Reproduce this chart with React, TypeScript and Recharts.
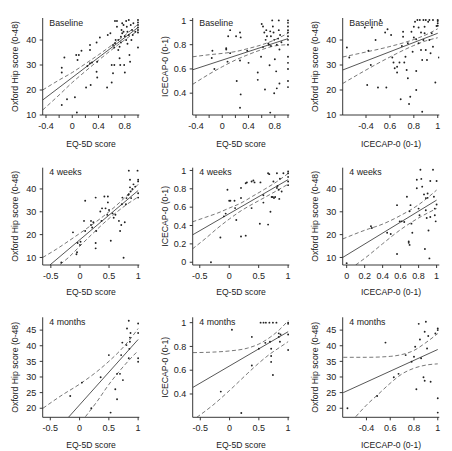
import React from 'react';
import { ComposedChart, Scatter, Line, XAxis, YAxis } from 'recharts';

type XY = [number, number];

const NARROW = "'Liberation Sans Narrow', 'Liberation Sans', Arial, sans-serif";
const WIDE = "'Liberation Sans', Arial, sans-serif";
const INK = '#222';

// axis titles
const EQ5D = 'EQ-5D score';
const OHS = 'Oxford Hip score (0-48)';
const ICECAP = 'ICECAP-0 (0-1)';

// ticks
const eqTicksBase = [-0.4, -0.2, 0, 0.2, 0.4, 0.6, 0.8, 1];
const eqLabelsBase = [-0.4, 0, 0.4, 0.8];
const eqTicksLater = [-0.5, 0, 0.5, 1];
const icecapXTicksShort = [0.4, 0.6, 0.8, 1];
const icecapXTicksFull = [0, 0.2, 0.4, 0.6, 0.8, 1];
const ohsTicks10 = [10, 20, 30, 40];
const ohsTicks5 = [20, 25, 30, 35, 40, 45];
const icecapYTicks = [0.4, 0.6, 0.8, 1];
const icecapYTicksFull = [0, 0.2, 0.4, 0.6, 0.8, 1];

// ---- Baseline ----
const baseEqOhs: XY[] = [
  [-0.16, 28.9], [-0.16, 27], [-0.16, 14], [-0.12, 33], [-0.08, 16.3], [0.04, 17.1], [0.06, 34], [0.08, 32],
  [0.1, 34], [0.14, 35.7], [0.21, 21], [0.23, 29.6], [0.27, 30.7], [0.27, 38], [0.27, 36], [0.3, 31],
  [0.28, 22], [0.07, 11], [0.37, 27.3], [0.38, 25], [0.38, 31.3], [0.37, 39], [0.42, 41], [0.53, 21],
  [0.54, 42], [0.58, 42.7], [0.6, 23], [0.62, 26.7], [0.6, 30], [0.64, 30], [0.64, 37], [0.65, 38.7],
  [0.65, 47.6], [0.68, 47.6], [0.68, 45.3], [0.7, 40], [0.72, 37.3], [0.72, 32.7], [0.73, 30], [0.74, 41.3],
  [0.75, 44], [0.76, 46.7], [0.76, 42.7], [0.78, 46], [0.78, 43.3], [0.79, 30], [0.8, 27], [0.82, 40],
  [0.82, 47.6], [0.83, 45.3], [0.84, 43.3], [0.86, 48], [0.86, 42], [0.87, 34], [0.88, 31.3], [0.89, 46],
  [0.91, 44], [0.93, 46.7], [0.96, 43.3], [1, 48], [1, 47], [1, 46], [1, 45], [1, 44], [1, 43], [1, 37],
  [0.62, 38], [0.66, 40], [0.7, 36], [0.74, 39], [0.8, 41.5], [0.84, 38.5], [0.9, 40], [0.92, 42],
];
const baseEqOhsFit: XY[] = [[-0.45, 16], [1, 45]];
const baseEqOhsHi: XY[] = [[-0.45, 20], [-0.2, 24], [0, 27], [0.2, 30.5], [0.4, 34.1], [0.6, 37.9], [0.8, 41.9], [1, 46.3]];
const baseEqOhsLo: XY[] = [[-0.45, 12], [-0.2, 18], [0, 23], [0.2, 27.5], [0.4, 31.9], [0.6, 36.1], [0.8, 40.1], [1, 43.7]];

const baseEqIce: XY[] = [
  [-0.15, 0.75], [-0.16, 0.69], [-0.12, 0.6], [0.06, 0.77], [0.06, 0.76], [0.09, 0.87], [0.12, 0.92], [0.12, 0.73],
  [0.08, 0.66], [0.21, 0.87], [0.27, 0.9], [0.28, 0.86], [0.22, 0.5], [0.27, 0.67], [0.28, 0.39], [0.27, 0.28],
  [0.38, 0.75], [0.4, 0.65], [0.54, 0.57], [0.54, 0.51], [0.59, 0.7], [0.6, 0.97], [0.62, 0.95], [0.64, 0.9],
  [0.65, 0.43], [0.67, 0.92], [0.68, 0.87], [0.7, 0.81], [0.71, 0.8], [0.73, 0.91], [0.74, 0.87], [0.74, 0.79],
  [0.76, 1], [0.77, 0.95], [0.78, 0.9], [0.79, 0.84], [0.8, 0.68], [0.82, 0.58], [0.83, 0.44], [0.83, 0.8],
  [0.86, 1], [0.86, 0.92], [0.87, 0.76], [0.87, 0.48], [0.73, 0.24], [0.72, 0.63], [0.79, 0.4], [0.85, 0.85],
  [0.88, 0.88], [0.9, 0.82], [0.66, 0.84], [0.62, 0.78], [1, 1], [1, 0.98], [1, 0.95], [1, 0.92], [1, 0.9],
  [1, 0.87], [1, 0.84], [1, 0.8], [1, 0.7], [1, 0.65], [1, 0.6], [1, 0.5], [1, 0.45],
];
const baseEqIceFit: XY[] = [[-0.45, 0.593], [1, 0.85]];
const baseEqIceHi: XY[] = [[-0.45, 0.7], [-0.2, 0.717], [0, 0.728], [0.2, 0.743], [0.4, 0.769], [0.6, 0.799], [0.8, 0.84], [1, 0.895]];
const baseEqIceLo: XY[] = [[-0.45, 0.473], [-0.2, 0.557], [0, 0.618], [0.2, 0.673], [0.4, 0.719], [0.6, 0.759], [0.8, 0.79], [1, 0.8]];

const baseIceOhs: XY[] = [
  [0.24, 37], [0.26, 33], [0.39, 45], [0.45, 45], [0.41, 22], [0.44, 30], [0.42, 35.7], [0.48, 40],
  [0.5, 21], [0.57, 21], [0.52, 48], [0.56, 43], [0.58, 44.3], [0.61, 42], [0.62, 33], [0.63, 31],
  [0.64, 28.7], [0.66, 29.3], [0.66, 27], [0.68, 31], [0.69, 16.3], [0.7, 37.6], [0.71, 41.3], [0.71, 43.3],
  [0.72, 31], [0.73, 33.3], [0.74, 28], [0.75, 38.7], [0.75, 24.7], [0.76, 14.4], [0.77, 17.3], [0.78, 43.3],
  [0.8, 45.3], [0.79, 35.3], [0.81, 47.3], [0.82, 40.3], [0.82, 20], [0.82, 27.6], [0.83, 48], [0.84, 45],
  [0.84, 38.7], [0.85, 48], [0.86, 36], [0.87, 32], [0.87, 11.3], [0.88, 48], [0.89, 45.3], [0.89, 42.7],
  [0.9, 36], [0.91, 32], [0.92, 47.3], [0.93, 40], [0.94, 34.7], [0.95, 42.7], [0.96, 37.3], [0.98, 23],
  [0.99, 45.6], [1, 48], [1, 47.6], [1, 46.7], [1, 45.7], [1.01, 33], [0.9, 48], [0.93, 48], [0.96, 48],
  [0.86, 43], [0.8, 41], [0.88, 40],
];
const baseIceOhsFit: XY[] = [[0.205, 28], [1, 42.7]];
const baseIceOhsHi: XY[] = [[0.205, 33.2], [0.4, 35.2], [0.6, 37.4], [0.8, 40.2], [0.9, 42.05], [1, 44.5]];
const baseIceOhsLo: XY[] = [[0.205, 22.6], [0.4, 28], [0.6, 33.2], [0.8, 37.8], [0.9, 39.65], [1, 40.9]];

// ---- 4 weeks ----
const wkEqOhs: XY[] = [
  [-0.32, 7.8], [-0.12, 21], [-0.06, 11.4], [-0.05, 12.3], [-0.04, 16.3], [0, 15.5], [0.01, 16.9], [0.09, 34.8],
  [0.07, 26], [0.09, 21.6], [0.19, 26], [0.19, 24.2], [0.21, 23.1], [0.23, 25.4], [0.27, 36.2], [0.27, 16.3],
  [0.27, 14], [0.28, 21.6], [0.35, 30.1], [0.37, 26], [0.38, 31.5], [0.42, 36.7], [0.44, 31.5], [0.48, 36.7],
  [0.48, 34.1], [0.47, 28.7], [0.5, 30.8], [0.53, 17.3], [0.56, 29.3], [0.58, 27.4], [0.61, 28.7], [0.67, 26],
  [0.69, 21.6], [0.71, 24.2], [0.72, 33.3], [0.73, 36.2], [0.75, 9.9], [0.77, 25.4], [0.79, 33.3], [0.8, 36],
  [0.83, 37.4], [0.84, 37.7], [0.84, 48], [0.86, 44], [0.86, 40.7], [0.87, 38.9], [0.88, 36], [0.99, 48],
  [1, 44], [1, 43.3], [1, 38.1], [1, 36.2], [0.9, 40], [0.92, 42], [0.95, 41],
];
const wkEqOhsFit: XY[] = [[-0.516, 6.7], [1, 39.3]];
const wkEqOhsHi: XY[] = [[-0.64, 10], [-0.4, 13.7], [-0.2, 17.1], [0, 20.6], [0.2, 24.2], [0.4, 28], [0.6, 32.2], [0.8, 36.9], [1, 42]];
const wkEqOhsLo: XY[] = [[-0.34, 7], [-0.2, 9.9], [0, 15], [0.2, 20], [0.4, 24.8], [0.6, 29.2], [0.8, 33.1], [1, 36.5]];

const wkEqIce: XY[] = [
  [-0.31, 0], [-0.15, 0.27], [-0.09, 0.5], [-0.06, 0.53], [-0.03, 0.79], [0, 0.67], [0.02, 0.67], [0.09, 0.67],
  [0.1, 0.59], [0.12, 0.46], [0.2, 0.81], [0.2, 0.7], [0.2, 0.28], [0.28, 0.29], [0.28, 0.86], [0.3, 0.87],
  [0.38, 0.88], [0.41, 0.89], [0.43, 0.87], [0.38, 0.59], [0.52, 0.42], [0.53, 0.87], [0.58, 0.65], [0.58, 0.73],
  [0.66, 0.97], [0.68, 0.96], [0.66, 0.41], [0.7, 0.55], [0.72, 0.71], [0.74, 0.71], [0.75, 0.88], [0.76, 0.7],
  [0.78, 0.71], [0.81, 0.97], [0.81, 0.81], [0.82, 0.83], [0.84, 0.79], [0.85, 0.69], [0.86, 0.91], [0.89, 0.77],
  [0.92, 0.97], [1, 0.99], [1, 0.97], [1, 0.93], [1, 0.88], [1, 0.84],
];
const wkEqIceFit: XY[] = [[-0.625, 0.297], [1, 0.9]];
const wkEqIceHi: XY[] = [[-0.625, 0.44], [-0.4, 0.49], [-0.2, 0.535], [0, 0.59], [0.2, 0.645], [0.4, 0.72], [0.6, 0.795], [0.8, 0.875], [1, 0.967]];
const wkEqIceLo: XY[] = [[-0.625, 0.145], [-0.4, 0.26], [-0.2, 0.37], [0, 0.47], [0.2, 0.56], [0.4, 0.635], [0.6, 0.705], [0.8, 0.777], [1, 0.85]];

const wkIceOhs: XY[] = [
  [0, 7.5], [0.27, 23.7], [0.28, 22.9], [0.45, 20.8], [0.49, 20.3], [0.56, 11.5], [0.56, 32.9], [0.59, 25.8],
  [0.61, 25.8], [0.64, 25.5], [0.67, 36.6], [0.69, 16.4], [0.7, 15.5], [0.69, 17], [0.7, 30.2], [0.71, 32.9],
  [0.72, 24.8], [0.73, 20.8], [0.78, 40.3], [0.78, 44], [0.8, 31.4], [0.81, 28.5], [0.82, 48.4], [0.83, 44.4],
  [0.84, 41], [0.86, 37.6], [0.87, 13.7], [0.88, 30.7], [0.89, 27.3], [0.9, 36.1], [0.91, 21.8], [0.92, 9.6],
  [0.93, 43.5], [0.93, 27.7], [0.96, 48.4], [0.97, 36.6], [0.98, 31.4], [0.98, 28.5], [0.99, 25.8], [1, 43.5],
  [1, 33.2], [0.88, 36], [0.9, 38],
];
const wkIceOhsFit: XY[] = [[-0.044, 10], [1, 35.1]];
const wkIceOhsHi: XY[] = [[-0.044, 18.1], [0.2, 21.9], [0.4, 24.6], [0.6, 28.4], [0.8, 33.1], [1, 39.5]];
const wkIceOhsLo: XY[] = [[0.1, 6.7], [0.2, 9.6], [0.4, 16], [0.6, 22.2], [0.8, 27.3], [1, 31.4]];

// ---- 4 months ----
const moEqOhs: XY[] = [
  [-0.16, 23.9], [0.04, 28.2], [0.2, 20], [0.36, 29.9], [0.5, 37], [0.53, 18.6], [0.61, 26.1], [0.64, 22.9],
  [0.64, 31], [0.69, 31], [0.71, 37], [0.73, 41], [0.74, 29], [0.81, 45.5], [0.84, 48], [0.86, 42.6],
  [0.86, 41.3], [0.84, 36], [0.87, 44.1], [1, 47.1], [1, 44.1], [1, 36], [1, 34.9], [0.8, 40.2], [0.85, 39],
];
const moEqOhsFit: XY[] = [[-0.19, 17.1], [1, 42]];
const moEqOhsHi: XY[] = [[-0.625, 20], [-0.3, 24.2], [0, 27.7], [0.3, 31.8], [0.5, 35], [0.7, 38.6], [0.85, 41.8], [1, 45.5]];
const moEqOhsLo: XY[] = [[0.1, 17.3], [0.3, 22.2], [0.5, 27.6], [0.7, 32.3], [0.85, 35.5], [1, 38.4]];

const moEqIce: XY[] = [
  [-0.15, 0.42], [0.04, 0.94], [0.2, 0.24], [0.38, 0.88], [0.38, 0.64], [0.53, 1], [0.58, 1], [0.62, 1],
  [0.68, 1], [0.74, 1], [0.8, 1], [0.5, 0.78], [0.61, 0.83], [0.69, 0.84], [0.71, 0.78], [0.71, 0.72],
  [0.71, 0.67], [0.74, 0.56], [0.84, 0.91], [0.87, 0.9], [0.86, 0.84], [1, 1], [1, 0.99], [1, 0.9],
  [1, 0.77], [0.84, 0.88],
];
const moEqIceFit: XY[] = [[-0.625, 0.456], [1, 0.924]];
const moEqIceHi: XY[] = [[-0.625, 0.748], [-0.3, 0.752], [0, 0.762], [0.3, 0.785], [0.5, 0.82], [0.7, 0.88], [0.85, 0.94], [1, 1.017]];
const moEqIceLo: XY[] = [[-0.56, 0.204], [-0.3, 0.3], [0, 0.43], [0.3, 0.57], [0.5, 0.66], [0.7, 0.74], [0.85, 0.79], [1, 0.84]];

const moIceOhs: XY[] = [
  [0.24, 20], [0.49, 23.9], [0.56, 41], [0.63, 29.9], [0.67, 31], [0.73, 37], [0.78, 34.9], [0.8, 36.5],
  [0.81, 39.7], [0.82, 26.1], [0.84, 47], [0.85, 42], [0.86, 36], [0.88, 29.9], [0.89, 28.8], [0.89, 44.5],
  [0.9, 47.7], [0.91, 39.1], [0.92, 43.1], [0.94, 28.5], [0.98, 43.9], [1, 45.5], [1, 45], [1, 23.2], [1, 18.6],
];
const moIceOhsFit: XY[] = [[0.205, 25], [1, 38.8]];
const moIceOhsHi: XY[] = [[0.205, 36.3], [0.4, 36.3], [0.6, 36.6], [0.7, 37.2], [0.8, 38.5], [0.9, 41], [1, 43.9]];
const moIceOhsLo: XY[] = [[0.31, 17.3], [0.4, 21], [0.5, 24.5], [0.6, 28], [0.7, 31], [0.8, 32.8], [0.9, 33.8], [1, 34.2]];

type PanelCfg = {
  title: string;
  xTitle: string;
  yTitle: string;
  xDomain: [number, number];
  yDomain: [number, number];
  xTicks: number[];
  yTicks: number[];
  xFmt: (v: number) => string;
  points: XY[];
  fit: XY[];
  hi: XY[];
  lo: XY[];
};

const fmtBase = (v: number) => (eqLabelsBase.includes(v) ? String(v) : '');
const fmtPlain = (v: number) => String(v);
const fmtIce = (v: number) => (v === 0.4 ? '-0.4' : String(v));

const rows = [
  { top: 0, height: 150, plotTop: 18, plotBottom: 115, titleOffset: 3, label: 'Baseline' },
  { top: 145, height: 155, plotTop: 22.7, plotBottom: 120, titleOffset: 5.3, label: '4 weeks' },
  { top: 300, height: 151, plotTop: 17.3, plotBottom: 117.3, titleOffset: 3, label: '4 months' },
];

const panels: PanelCfg[][] = [
  [
    { title: 'Baseline', xTitle: EQ5D, yTitle: OHS, xDomain: [-0.45, 1.02], yDomain: [10, 48.8], xTicks: eqTicksBase, yTicks: ohsTicks10, xFmt: fmtBase, points: baseEqOhs, fit: baseEqOhsFit, hi: baseEqOhsHi, lo: baseEqOhsLo },
    { title: 'Baseline', xTitle: EQ5D, yTitle: ICECAP, xDomain: [-0.45, 1.02], yDomain: [0.22, 1.02], xTicks: eqTicksBase, yTicks: icecapYTicks, xFmt: fmtBase, points: baseEqIce, fit: baseEqIceFit, hi: baseEqIceHi, lo: baseEqIceLo },
    { title: 'Baseline', xTitle: ICECAP, yTitle: OHS, xDomain: [0.205, 1.013], yDomain: [10, 48.8], xTicks: icecapXTicksShort, yTicks: ohsTicks10, xFmt: fmtIce, points: baseIceOhs, fit: baseIceOhsFit, hi: baseIceOhsHi, lo: baseIceOhsLo },
  ],
  [
    { title: '4 weeks', xTitle: EQ5D, yTitle: OHS, xDomain: [-0.64, 1.02], yDomain: [6.7, 49.3], xTicks: eqTicksLater, yTicks: ohsTicks10, xFmt: fmtPlain, points: wkEqOhs, fit: wkEqOhsFit, hi: wkEqOhsHi, lo: wkEqOhsLo },
    { title: '4 weeks', xTitle: EQ5D, yTitle: ICECAP, xDomain: [-0.62, 1.02], yDomain: [-0.03, 1.03], xTicks: eqTicksLater, yTicks: icecapYTicksFull, xFmt: fmtPlain, points: wkEqIce, fit: wkEqIceFit, hi: wkEqIceHi, lo: wkEqIceLo },
    { title: '4 weeks', xTitle: ICECAP, yTitle: OHS, xDomain: [-0.044, 1.03], yDomain: [6.7, 49.3], xTicks: icecapXTicksFull, yTicks: ohsTicks10, xFmt: fmtPlain, points: wkIceOhs, fit: wkIceOhsFit, hi: wkIceOhsHi, lo: wkIceOhsLo },
  ],
  [
    { title: '4 months', xTitle: EQ5D, yTitle: OHS, xDomain: [-0.63, 1.02], yDomain: [17.1, 49.1], xTicks: eqTicksLater, yTicks: ohsTicks5, xFmt: fmtPlain, points: moEqOhs, fit: moEqOhsFit, hi: moEqOhsHi, lo: moEqOhsLo },
    { title: '4 months', xTitle: EQ5D, yTitle: ICECAP, xDomain: [-0.63, 1.02], yDomain: [0.204, 1.045], xTicks: eqTicksLater, yTicks: icecapYTicks, xFmt: fmtPlain, points: moEqIce, fit: moEqIceFit, hi: moEqIceHi, lo: moEqIceLo },
    { title: '4 months', xTitle: ICECAP, yTitle: OHS, xDomain: [0.2, 1.013], yDomain: [17.1, 49.1], xTicks: icecapXTicksShort, yTicks: ohsTicks5, xFmt: fmtIce, points: moIceOhs, fit: moIceOhsFit, hi: moIceOhsHi, lo: moIceOhsLo },
  ],
];

const toPts = (a: XY[]) => a.map(([x, y]) => ({ x, y }));

// eslint-disable-next-line @typescript-eslint/no-explicit-any
const Dot = (p: any) => <circle cx={p.cx} cy={p.cy} r={0.95} fill={INK} />;

const PLOT_LEFT = 42.7;
const CHART_W = 150;
const PLOT_RIGHT = 139.3;

function Panel({ cfg, left, row }: { cfg: PanelCfg; left: number; row: typeof rows[number] }) {
  const axisStyle = { stroke: INK, strokeWidth: 0.9 };
  return (
    <div style={{ position: 'absolute', left, top: row.top, width: CHART_W, height: row.height }}>
      <ComposedChart
        width={CHART_W}
        height={row.height}
        margin={{ top: row.plotTop, right: CHART_W - PLOT_RIGHT, left: 0, bottom: 0 }}
      >
        <XAxis
          type="number" dataKey="x" domain={cfg.xDomain} ticks={cfg.xTicks} interval={0}
          allowDataOverflow tickFormatter={cfg.xFmt}
          height={row.height - row.plotBottom} tickSize={3} tickMargin={4.5}
          axisLine={axisStyle} tickLine={axisStyle}
          tick={{ fontSize: 9, fill: INK, fontFamily: NARROW }}
          label={{ value: cfg.xTitle, position: 'insideBottom', offset: row.titleOffset, fontSize: 8.6, fill: INK, fontFamily: NARROW }}
        />
        <YAxis
          type="number" dataKey="y" domain={cfg.yDomain} ticks={cfg.yTicks} interval={0}
          allowDataOverflow width={PLOT_LEFT} tickSize={3} tickMargin={3.5}
          axisLine={axisStyle} tickLine={axisStyle}
          tick={{ fontSize: 9, fill: INK, fontFamily: NARROW }}
          label={{ value: cfg.yTitle, angle: -90, position: 'insideLeft', offset: 15, fontSize: 8.7, fill: INK, fontFamily: WIDE, style: { textAnchor: 'middle' } }}
        />
        <Line data={toPts(cfg.hi)} dataKey="y" type="monotone" stroke="#555" strokeWidth={0.8} strokeDasharray="4 2.5" dot={false} isAnimationActive={false} />
        <Line data={toPts(cfg.lo)} dataKey="y" type="monotone" stroke="#555" strokeWidth={0.8} strokeDasharray="4 2.5" dot={false} isAnimationActive={false} />
        <Line data={toPts(cfg.fit)} dataKey="y" type="linear" stroke="#444" strokeWidth={0.9} dot={false} isAnimationActive={false} />
        <Scatter data={toPts(cfg.points)} shape={Dot} isAnimationActive={false} />
      </ComposedChart>
      <div
        style={{
          position: 'absolute', left: PLOT_LEFT + 6.6, top: row.plotTop - 0.3, fontSize: 8.8,
          lineHeight: '10px', color: INK, fontFamily: NARROW, whiteSpace: 'nowrap',
        }}
      >
        {cfg.title}
      </div>
    </div>
  );
}

export default function App() {
  return (
    <div style={{ position: 'absolute', left: 0, top: 0, width: 452, height: 451, background: '#fff' }}>
      {rows.map((row, r) =>
        panels[r].map((cfg, c) => <Panel key={`${r}-${c}`} cfg={cfg} left={c * 150} row={row} />),
      )}
    </div>
  );
}
